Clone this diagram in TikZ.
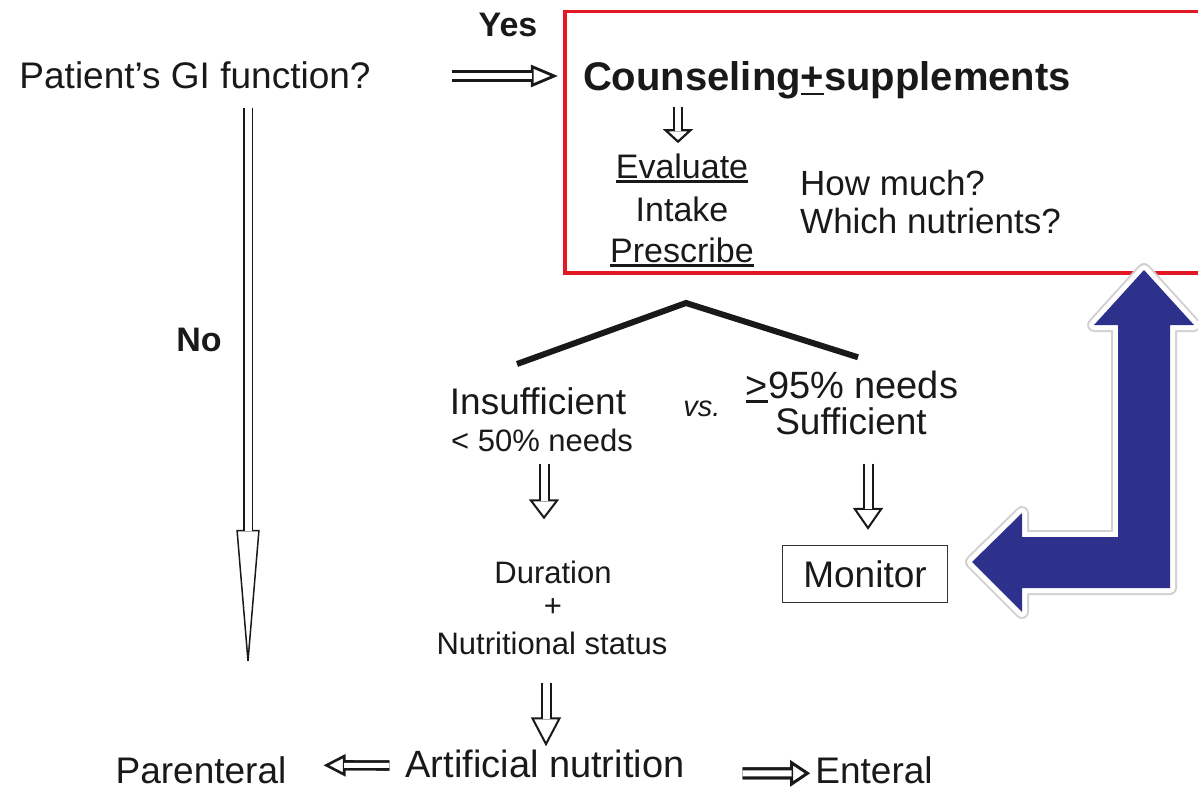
\documentclass[tikz,border=0pt]{standalone}
\usepackage{fontspec}
\setmainfont{Liberation Sans}
\usetikzlibrary{arrows.meta,positioning,calc}
\definecolor{boxred}{RGB}{226,24,36}
\definecolor{loopblue}{RGB}{46,49,140}
\newcommand{\undl}[1]{\setbox0=\hbox{#1}\leavevmode\rlap{\rule[-4.5pt]{\wd0}{2.6pt}}\box0\relax}

\begin{document}
\begin{tikzpicture}[
    x=1pt, y=-1pt,
    txt/.style={inner sep=0pt, anchor=base, text=black!90, font=\fontsize{37}{44}\selectfont},
    small/.style={txt, font=\fontsize{31}{37}\selectfont},
    hollow/.style n args={4}{draw=black!90, line width=#1, double=white, double distance=#2,
        -{Triangle[length=#3, width=#4, fill=white, line width=#1]},
        postaction={draw=black!90, line width=#1, double=white, double distance=#2, -, shorten >=#3-1.5pt}},
    roof/.style={line width=6pt, black!90},
    redbox/.style={draw=boxred, line width=3.5pt, inner sep=0pt},
    monbox/.style={draw=black!80, line width=1.4pt, minimum width=165pt, minimum height=57pt, text=black!90, font=\fontsize{37}{44}\selectfont},
    loop/.style={fill=loopblue, preaction={draw=black!18, line width=14pt, line join=round},
        preaction={draw=white, line width=10pt, line join=round}}
]
    \useasboundingbox (0,0) rectangle (1198,789);

    % Question
    \node[txt] (q) at (195,89) {Patient’s GI function?};
    \node[txt, font=\bfseries\fontsize{34}{40}\selectfont] (yes) at (508,37) {Yes};
    \node[txt, font=\bfseries\fontsize{34}{40}\selectfont] (no) at (199,351) {No};

    % Counseling
    \node[redbox, anchor=north west, minimum width=660pt, minimum height=261pt] (advbox) at (563,10) {};
    \node[txt, font=\bfseries\fontsize{40}{48}\selectfont] (couns) at (827,91) {Counseling\undl{+}supplements};
    \node[txt, font=\fontsize{34}{40}\selectfont] (evl) at (682,178) {\undl{Evaluate}};
    \node[txt, font=\fontsize{34}{40}\selectfont] (intk) at (682,221) {Intake};
    \node[txt, font=\fontsize{34}{40}\selectfont] (presc) at (682,262) {\undl{Prescribe}};
    \node[txt, anchor=base west, font=\fontsize{35}{42}\selectfont] (howm) at (800,195) {How much?};
    \node[txt, anchor=base west, font=\fontsize{35}{42}\selectfont] (whn) at (800,233) {Which nutrients?};

    % Outcomes
    \coordinate (apex) at (686,303);
    \node[txt] (ins1) at (538,414) {Insufficient};
    \node[small] (ins2) at (542,451) {< 50\% needs};
    \node[txt, font=\itshape\fontsize{29}{35}\selectfont] (vs) at (702,416) {vs.};
    \node[txt, font=\fontsize{38}{45}\selectfont] (suf1) at (852,398) {\undl{>}95\% needs};
    \node[txt] (suf2) at (851,434) {Sufficient};

    % Insufficient branch
    \node[small] (dur1) at (553,583) {Duration};
    \node[small] (dur2) at (553,616) {+};
    \node[small] (dur3) at (552,654) {Nutritional status};
    \node[txt, font=\fontsize{38}{45}\selectfont] (art) at (545,777) {Artificial nutrition};
    \node[txt] (par) at (201,783) {Parenteral};
    \node[txt] (ent) at (874,783) {Enteral};

    % Sufficient branch
    \node[monbox] (mon) at (865,574) {Monitor};

    % Edges
    \draw[hollow={2.8pt}{6pt}{27pt}{22pt}] ($(q.base east)+(81,-13)$) -- ($(couns.base west)+(-25,-15)$);
    \draw[hollow={1.5pt}{7pt}{140pt}{23pt}] ($(q.base)+(53,19)$) -- ($(par.north)+(47,-86)$);
    \draw[hollow={2.2pt}{5.5pt}{14pt}{30pt}] ($(couns.base -| evl.base)+(-4,16)$) -- ($(evl.north)+(-4,-10)$);
    \draw[roof] ($(ins1.north)+(-21,-23)$) -- (apex) -- ($(suf1.north)+(6,-13)$);
    \draw[hollow={2pt}{7pt}{20pt}{30pt}] ($(ins2.south)+(2,12)$) -- ($(dur1.north)+(-9,-41)$);
    \draw[hollow={2pt}{7pt}{29pt}{30pt}] ($(dur3.south)+(-6,28)$) -- ($(art.north)+(1,-3)$);
    \draw[hollow={2pt}{7pt}{22pt}{30pt}] ($(suf2.south)+(17,29)$) -- ($(mon.north)+(3,-15)$);
    \draw[hollow={2.6pt}{5pt}{22pt}{22pt}] ($(art.west)+(-16,2)$) -- ($(par.east)+(37,-4.5)$);
    \draw[hollow={3pt}{6pt}{20pt}{26pt}] ($(art.east)+(58,10)$) -- ($(ent.west)+(-5,3.5)$);

    % Feedback loop
    \path[loop] (1144,270) -- (1194,325) -- (1170,325) -- (1170,588) -- (1022,588)
        -- (1022,612) -- (972,562) -- (1022,513) -- (1022,537) -- (1118,537)
        -- (1118,325) -- (1094,325) -- cycle;
\end{tikzpicture}
\end{document}
